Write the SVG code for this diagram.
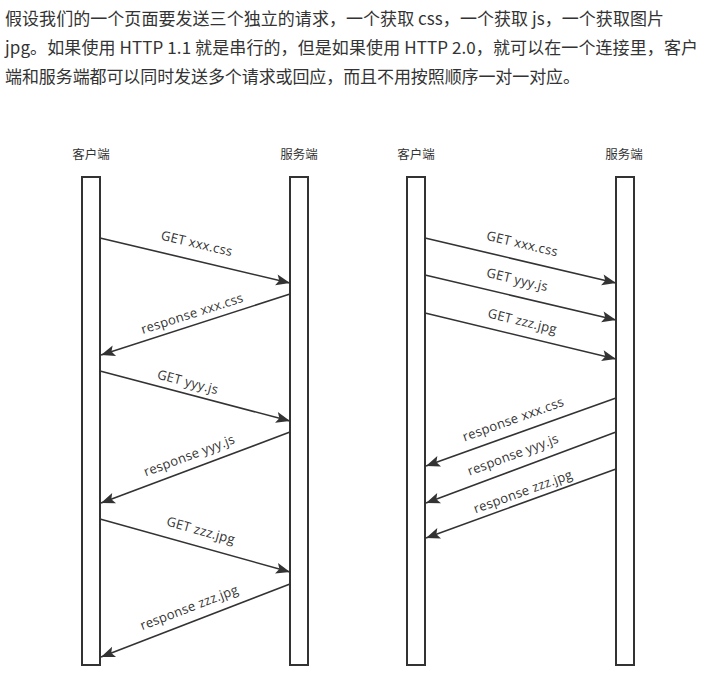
<svg xmlns="http://www.w3.org/2000/svg" width="712" height="686" viewBox="0 0 712 686">
<defs>
<style>
.para{font-family:"Noto Sans CJK SC","Noto Sans",sans-serif;font-size:17px;fill:#333}
.head{font-family:"Noto Sans CJK SC","Noto Sans",sans-serif;font-size:12.5px;fill:#333;text-anchor:middle}
.lbl{font-family:"Open Sans","Noto Sans",sans-serif;font-size:13px;letter-spacing:0.3px;fill:#333;text-anchor:middle;dominant-baseline:central}
.life{fill:#fff;stroke:#333;stroke-width:2}
.msg{stroke:#333;stroke-width:1.6;fill:none;marker-end:url(#arr)}
</style>
<marker id="arr" markerUnits="userSpaceOnUse" markerWidth="18" markerHeight="14" viewBox="-15 -7 16 14" refX="0" refY="0" orient="auto">
<path d="M0,0 L-14,-5.5 L-11,0 L-14,5.5 Z" fill="#333"/>
</marker>
</defs>
<rect width="712" height="686" fill="#fff"/>
<g id="intro">
<text class="para" x="5" y="25" textLength="659" lengthAdjust="spacing">假设我们的一个页面要发送三个独立的请求，一个获取 css，一个获取 js，一个获取图片</text>
<text class="para" x="5" y="54" textLength="693" lengthAdjust="spacing">jpg。如果使用 HTTP 1.1 就是串行的，但是如果使用 HTTP 2.0，就可以在一个连接里，客户</text>
<text class="para" x="5" y="83" textLength="575" lengthAdjust="spacing">端和服务端都可以同时发送多个请求或回应，而且不用按照顺序一对一对应。</text>
</g>
<g id="left-client">
<text class="head" x="91" y="159">客户端</text>
<rect class="life" x="82" y="177" width="18" height="488"/>
</g>
<g id="left-server">
<text class="head" x="299" y="159">服务端</text>
<rect class="life" x="290" y="177" width="18" height="488"/>
</g>
<g id="right-client">
<text class="head" x="416" y="159">客户端</text>
<rect class="life" x="407" y="177" width="18" height="488"/>
</g>
<g id="right-server">
<text class="head" x="624" y="159">服务端</text>
<rect class="life" x="616" y="177" width="18" height="488"/>
</g>
<g id="connectors">
<line class="msg" x1="100" y1="238" x2="290" y2="283"/>
<line class="msg" x1="290" y1="294" x2="101" y2="355"/>
<line class="msg" x1="100" y1="371" x2="290" y2="421"/>
<line class="msg" x1="290" y1="432" x2="101" y2="503"/>
<line class="msg" x1="100" y1="519" x2="290" y2="572"/>
<line class="msg" x1="290" y1="584" x2="101" y2="657"/>
<line class="msg" x1="425" y1="238" x2="616" y2="283"/>
<line class="msg" x1="425" y1="275" x2="616" y2="320"/>
<line class="msg" x1="425" y1="313" x2="616" y2="359"/>
<line class="msg" x1="616" y1="398" x2="426" y2="466"/>
<line class="msg" x1="616" y1="432" x2="426" y2="503"/>
<line class="msg" x1="616" y1="469" x2="426" y2="538"/>
</g>
<g id="labels">
<text class="lbl" transform="translate(197,243) rotate(13.3)">GET xxx.css</text>
<text class="lbl" transform="translate(192,313) rotate(-17.8)">response xxx.css</text>
<text class="lbl" transform="translate(188,381.5) rotate(14.7)">GET yyy.js</text>
<text class="lbl" transform="translate(189,455) rotate(-20.5)">response yyy.js</text>
<text class="lbl" transform="translate(201,530) rotate(15.6)">GET zzz.jpg</text>
<text class="lbl" transform="translate(189,607) rotate(-21)">response zzz.jpg</text>
<text class="lbl" transform="translate(522.5,243.3) rotate(13.3)">GET xxx.css</text>
<text class="lbl" transform="translate(517.5,279.2) rotate(13.3)">GET yyy.js</text>
<text class="lbl" transform="translate(522.5,320.8) rotate(13.6)">GET zzz.jpg</text>
<text class="lbl" transform="translate(513,418.7) rotate(-19.7)">response xxx.css</text>
<text class="lbl" transform="translate(512.8,454.2) rotate(-20.5)">response yyy.js</text>
<text class="lbl" transform="translate(522.8,491) rotate(-20)">response zzz.jpg</text>
</g>
</svg>
